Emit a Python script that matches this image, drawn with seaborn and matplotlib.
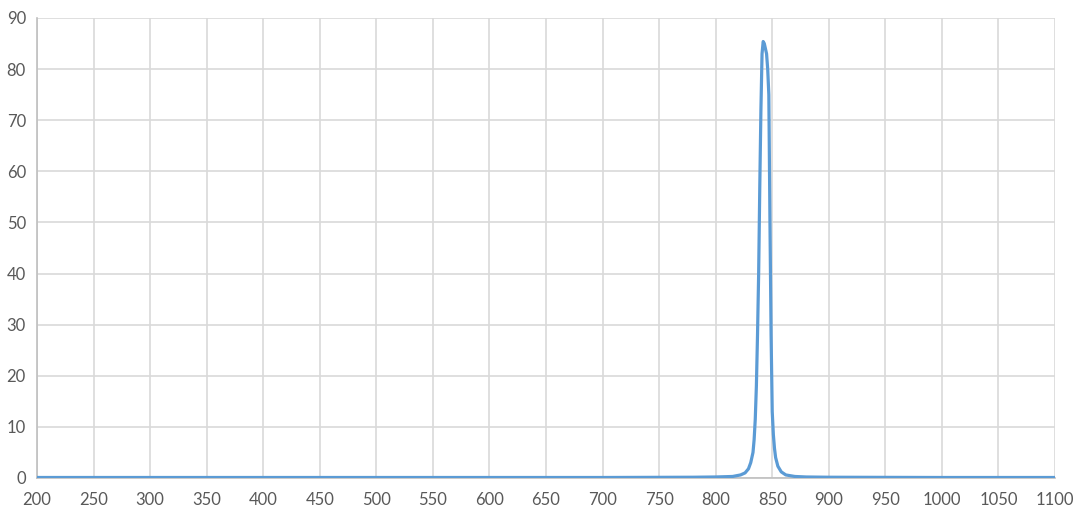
import matplotlib
matplotlib.use("Agg")
import matplotlib.pyplot as plt
import seaborn as sns
import pandas as pd

wavelength = [200, 300, 400, 500, 600, 700, 780, 800, 815, 822, 826, 829, 831, 833, 834, 835, 836,
              837, 838, 839, 840, 841, 842, 843, 844, 845, 846, 847, 848, 849, 850, 851, 852, 853,
              855, 858, 862, 870, 880, 900, 1000, 1100]
transmission = [0.1, 0.1, 0.1, 0.1, 0.1, 0.1, 0.15, 0.2, 0.3, 0.6, 1.0, 1.8, 3.0, 5.0, 7.5, 11.5, 18.0,
                28.0, 40.0, 57.0, 72.0, 83.0, 85.4, 85.0, 84.0, 83.0, 80.0, 75.0, 50.0, 28.0, 13.0, 8.5, 5.8, 4.0,
                2.3, 1.2, 0.6, 0.3, 0.2, 0.15, 0.1, 0.1]
x_ticks = list(range(200, 1101, 50))
y_ticks = list(range(0, 91, 10))

df = pd.DataFrame({"wavelength": wavelength, "transmission": transmission})

sns.set_style("white")
plt.rcParams["font.family"] = ["Lato", "DejaVu Sans"]

fig = plt.figure(figsize=(10.83, 5.16), dpi=100)
ax = fig.add_axes([37 / 1083, 38 / 516, (1055 - 37) / 1083, (478 - 18) / 516])

sns.lineplot(data=df, x="wavelength", y="transmission", ax=ax, color="#5B9BD5",
             linewidth=2.3, zorder=3)

ax.set_xlim(200, 1100)
ax.set_ylim(0, 90)
ax.set_xticks(x_ticks)
ax.set_yticks(y_ticks)
ax.set_xlabel("")
ax.set_ylabel("")
ax.grid(True, color="#D9D9D9", linewidth=1.2)
ax.set_axisbelow(True)
for side in ["top", "right"]:
    ax.spines[side].set_visible(False)
for side in ["left", "bottom"]:
    ax.spines[side].set_color("#BFBFBF")
    ax.spines[side].set_linewidth(1.2)
ax.tick_params(axis="both", length=0, labelsize=12, labelcolor="#595959")
ax.tick_params(axis="x", pad=10)
ax.tick_params(axis="y", pad=8)

fig.savefig("out.png", dpi=100)
